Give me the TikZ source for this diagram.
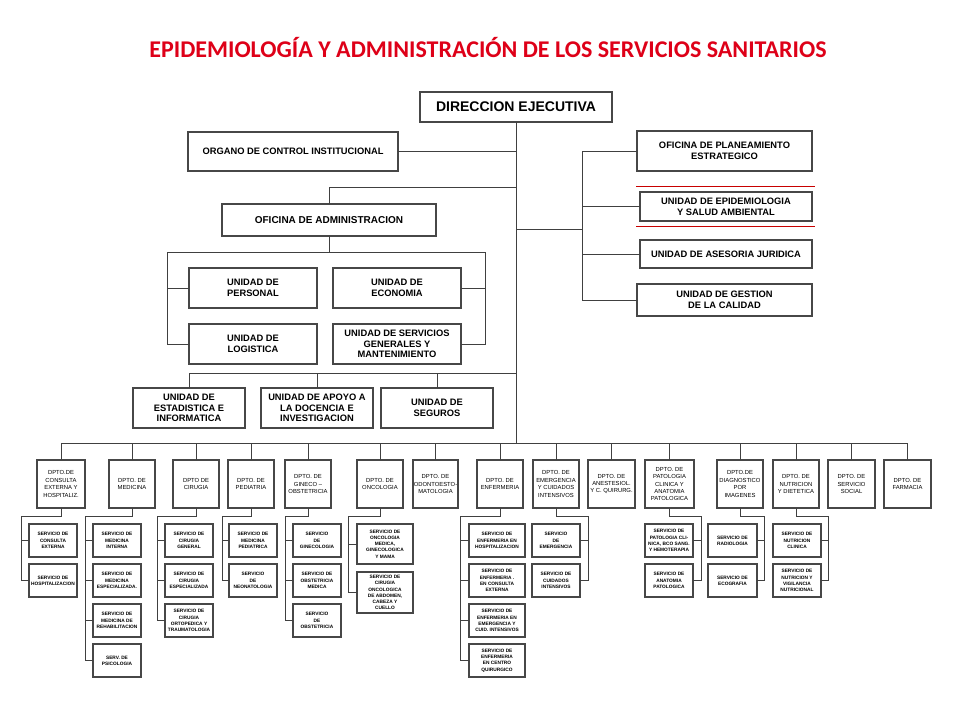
\documentclass[tikz,border=0pt]{standalone}
\usepackage{fontspec}
\setmainfont{Liberation Sans}
\newfontfamily\titlefont{Carlito}
\definecolor{tred}{RGB}{222,0,24}
\definecolor{lred}{RGB}{200,0,0}
\tikzset{
  box/.style={draw=black!72, line width=1.1pt, fill=white, inner sep=0pt, outer sep=0pt, align=center, font=\bfseries\fontsize{7}{8}\selectfont},
  dept/.style={box, line width=0.9pt, font=\fontsize{4.4}{5.6}\selectfont},
  serv/.style={box, line width=0.9pt, font=\bfseries\fontsize{3.6}{4.7}\selectfont},
  conn/.style={draw=black!75, line width=0.6pt}
}
\newcommand\bx[7]{\node[#2, minimum width={(#5-#3)*0.75pt}, minimum height={(#6-#4)*0.75pt}] (#1) at ({(#3+#5)/2},{(#4+#6)/2}) {#7};}
\newcommand\subt[4]{%
  \coordinate (#1bus) at (#2,516);
  \draw[conn] (#1.south) |- (#1bus);
  \foreach \s in {#4} {\draw[conn] (#1bus) |- (\s.#3);}
}
\begin{document}
\begin{tikzpicture}[x=0.75pt,y=-0.75pt]
\useasboundingbox (0,0) rectangle (960,720);
\fill[white] (0,0) rectangle (960,720);

\node[font=\titlefont\bfseries\fontsize{18}{21}\selectfont, text=tred] (title) at (488,48) {EPIDEMIOLOGÍA Y ADMINISTRACIÓN DE LOS SERVICIOS SANITARIOS};

% top level
\bx{dir}{box, font=\bfseries\fontsize{10.5}{12}\selectfont}{420}{92}{612}{122}{DIRECCION EJECUTIVA}
\bx{org}{box}{188}{132}{398}{171}{ORGANO DE CONTROL INSTITUCIONAL}
\bx{ofa}{box, font=\bfseries\fontsize{7.5}{9}\selectfont}{222}{204}{436}{236}{OFICINA DE ADMINISTRACION}
\bx{pla}{box}{637}{131}{812}{171}{OFICINA DE PLANEAMIENTO\\ESTRATEGICO}
\bx{epi}{box}{640}{192}{812}{221}{UNIDAD DE EPIDEMIOLOGIA\\Y SALUD AMBIENTAL}
\bx{ase}{box}{640}{240}{812}{268}{UNIDAD DE ASESORIA JURIDICA}
\bx{ges}{box}{637}{284}{812}{316}{UNIDAD DE GESTION\\DE LA CALIDAD}
\draw[lred, line width=0.7pt] (636,186) -- (815,186);
\draw[lred, line width=0.7pt] (636,226) -- (815,226);

% administration units
\bx{per}{box}{189}{268}{317}{308}{UNIDAD DE\\PERSONAL}
\bx{eco}{box}{333}{268}{461}{308}{UNIDAD DE\\ECONOMIA}
\bx{log}{box}{189}{324}{317}{364}{UNIDAD DE\\LOGISTICA}
\bx{sgm}{box}{333}{324}{461}{364}{UNIDAD DE SERVICIOS\\GENERALES Y\\MANTENIMIENTO}
\bx{est}{box}{133}{388}{245}{428}{UNIDAD DE\\ESTADISTICA E\\INFORMATICA}
\bx{apo}{box}{261}{388}{373}{428}{UNIDAD DE APOYO A\\LA DOCENCIA E\\INVESTIGACION}
\bx{seg}{box}{381}{388}{493}{428}{UNIDAD DE\\SEGUROS}

% departments
\bx{d1}{dept}{37}{460}{85}{508}{DPTO.DE\\CONSULTA\\EXTERNA Y\\HOSPITALIZ.}
\bx{d2}{dept}{109}{460}{155}{508}{DPTO. DE\\MEDICINA}
\bx{d3}{dept}{173}{460}{219}{508}{DPTO DE\\CIRUGIA}
\bx{d4}{dept}{228}{460}{274}{508}{DPTO. DE\\PEDIATRIA}
\bx{d5}{dept}{285}{460}{331}{508}{DPTO. DE\\GINECO --\\OBSTETRICIA}
\bx{d6}{dept}{357}{460}{403}{508}{DPTO. DE\\ONCOLOGIA}
\bx{d7}{dept}{413}{460}{458}{508}{DPTO. DE\\ODONTOESTO-\\MATOLOGIA}
\bx{d8}{dept}{477}{460}{523}{508}{DPTO. DE\\ENFERMERIA}
\bx{d9}{dept}{533}{460}{579}{508}{DPTO. DE\\EMERGENCIA\\Y CUIDADOS\\INTENSIVOS}
\bx{d10}{dept}{588}{460}{635}{508}{DPTO. DE\\ANESTESIOL.\\Y C. QUIRURG.}
\bx{d11}{dept}{645}{460}{694}{508}{DPTO. DE\\PATOLOGIA\\CLINICA Y\\ANATOMIA\\PATOLOGICA}
\bx{d12}{dept}{717}{460}{763}{508}{DPTO.DE\\DIAGNOSTICO\\POR\\IMAGENES}
\bx{d13}{dept}{773}{460}{819}{508}{DPTO. DE\\NUTRICION\\Y DIETETICA}
\bx{d14}{dept}{828}{460}{875}{508}{DPTO. DE\\SERVICIO\\SOCIAL}
\bx{d15}{dept}{884}{460}{931}{508}{DPTO. DE\\FARMACIA}

% services
\bx{s1a}{serv}{29}{524}{77}{557}{SERVICIO DE\\CONSULTA\\EXTERNA}
\bx{s1b}{serv}{29}{564}{77}{597}{SERVICIO DE\\HOSPITALIZACION}
\bx{s2a}{serv}{93}{524}{141}{557}{SERVICIO DE\\MEDICINA\\INTERNA}
\bx{s2b}{serv}{93}{564}{141}{597}{SERVICIO DE\\MEDICINA\\ESPECIALIZADA.}
\bx{s2c}{serv}{93}{604}{141}{637}{SERVICIO DE\\MEDICINA DE\\REHABILITACION}
\bx{s2d}{serv}{93}{644}{141}{677}{SERV. DE\\PSICOLOGIA}
\bx{s3a}{serv}{165}{524}{213}{557}{SERVICIO DE\\CIRUGIA\\GENERAL}
\bx{s3b}{serv}{165}{564}{213}{597}{SERVICIO DE\\CIRUGIA\\ESPECIALIZADA}
\bx{s3c}{serv}{165}{604}{213}{637}{SERVICIO DE\\CIRUGIA\\ORTOPEDICA Y\\TRAUMATOLOGIA}
\bx{s4a}{serv}{229}{524}{277}{557}{SERVICIO DE\\MEDICINA\\PEDIATRICA}
\bx{s4b}{serv}{229}{564}{277}{597}{SERVICIO\\DE\\NEONATOLOGIA}
\bx{s5a}{serv}{293}{524}{341}{557}{SERVICIO\\DE\\GINECOLOGIA}
\bx{s5b}{serv}{293}{564}{341}{597}{SERVICIO DE\\OBSTETRICIA\\MEDICA}
\bx{s5c}{serv}{293}{604}{341}{637}{SERVICIO\\DE\\OBSTETRICIA}
\bx{s6a}{serv}{357}{524}{413}{564}{SERVICIO DE\\ONCOLOGIA\\MEDICA,\\GINECOLOGICA\\Y MAMA}
\bx{s6b}{serv}{357}{572}{413}{613}{SERVICIO DE\\CIRUGIA\\ONCOLOGICA\\DE ABDOMEN,\\CABEZA Y\\CUELLO}
\bx{s8a}{serv}{469}{524}{525}{557}{SERVICIO DE\\ENFERMERIA EN\\HOSPITALIZACION}
\bx{s8b}{serv}{469}{564}{525}{597}{SERVICIO DE\\ENFERMERIA .\\EN CONSULTA\\EXTERNA}
\bx{s8c}{serv}{469}{604}{525}{637}{SERVICIO DE\\ENFERMERIA EN\\EMERGENCIA Y\\CUID. INTENSIVOS}
\bx{s8d}{serv}{469}{644}{525}{677}{SERVICIO DE\\ENFERMERIA\\EN CENTRO\\QUIRURGICO}
\bx{s9a}{serv}{532}{524}{580}{557}{SERVICIO\\DE\\EMERGENCIA}
\bx{s9b}{serv}{532}{564}{580}{597}{SERVICIO DE\\CUIDADOS\\INTENSIVOS}
\bx{s11a}{serv}{645}{524}{693}{557}{SERVICIO DE\\PATOLOGIA CLI-\\NICA, BCO SANG.\\Y HEMOTERAPIA}
\bx{s11b}{serv}{645}{564}{693}{597}{SERVICIO DE\\ANATOMIA\\PATOLOGICA}
\bx{s12a}{serv}{708}{524}{757}{557}{SERVICIO DE\\RADIOLOGIA}
\bx{s12b}{serv}{708}{564}{757}{597}{SERVICIO DE\\ECOGRAFIA}
\bx{s13a}{serv}{773}{524}{821}{557}{SERVICIO DE\\NUTRICION\\CLINICA}
\bx{s13b}{serv}{773}{564}{821}{597}{SERVICIO DE\\NUTRICION Y\\VIGILANCIA\\NUTRICIONAL}

% connectors: top
\coordinate (db) at (516,443);
\draw[conn] (dir.south) -- (db);
\draw[conn] (org.east) -- (org.east -| dir.south);
\coordinate (j1) at (516,187);
\draw[conn] (j1) -| (ofa.north);
\coordinate (rj) at (516,229);
\coordinate (rb) at (582,229);
\draw[conn] (rj) -- (rb);
\draw[conn] (pla.west) -| (ges.west -| rb) -- (ges.west);
\draw[conn] (epi.west -| rb) -- (epi.west);
\draw[conn] (ase.west -| rb) -- (ase.west);

% administration
\coordinate (al) at (167,252);
\coordinate (ar) at (485,252);
\draw[conn] (ofa.south) -- (ofa.south |- al);
\draw[conn] (log.west) -| (al) -- (ar) |- (sgm.east);
\draw[conn] (per.west -| al) -- (per.west);
\draw[conn] (eco.east -| ar) -- (eco.east);
\coordinate (r3) at (516,373);
\draw[conn] (r3) -| (est.north);
\draw[conn] (apo.north |- r3) -- (apo.north);
\draw[conn] (seg.north |- r3) -- (seg.north);

% departments
\draw[conn] (d1.north |- db) -- (d15.north |- db);
\foreach \i in {1,...,15} {\draw[conn] (d\i.north |- db) -- (d\i.north);}

% services
\subt{d1}{21}{west}{s1a,s1b}
\subt{d2}{85}{west}{s2a,s2b,s2c,s2d}
\subt{d3}{157}{west}{s3a,s3b,s3c}
\subt{d4}{222}{west}{s4a,s4b}
\subt{d5}{285}{west}{s5a,s5b,s5c}
\subt{d6}{348}{west}{s6a,s6b}
\subt{d8}{460}{west}{s8a,s8b,s8c,s8d}
\subt{d9}{588}{east}{s9a,s9b}
\subt{d11}{701}{east}{s11a,s11b}
\subt{d12}{764}{east}{s12a,s12b}
\subt{d13}{828}{east}{s13a,s13b}
\end{tikzpicture}
\end{document}
